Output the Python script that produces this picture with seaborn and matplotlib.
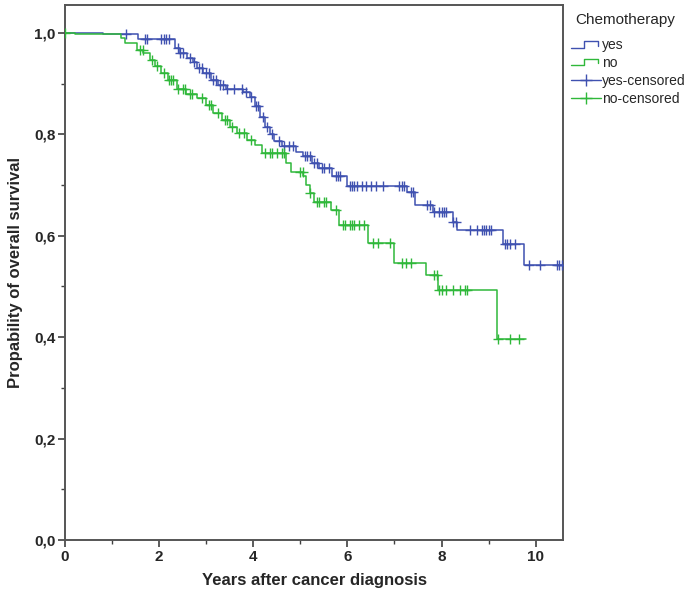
import numpy as np
import pandas as pd
import matplotlib
matplotlib.use('Agg')
import matplotlib.pyplot as plt
from matplotlib.lines import Line2D
from matplotlib.legend_handler import HandlerBase
from matplotlib.ticker import MultipleLocator, FuncFormatter
import seaborn as sns

# Kaplan-Meier step points (time in years, survival after step)
yes_time = [0, 0.8, 1.56, 2.33, 2.44, 2.6, 2.72, 2.8, 2.94, 3.1, 3.26, 3.43, 3.79, 3.93,
            4.03, 4.14, 4.25, 4.35, 4.45, 4.6, 4.9, 5.05, 5.25, 5.4, 5.67, 6.0, 7.27,
            7.43, 7.82, 8.24, 8.33, 9.3, 9.75]
yes_surv = [1.0, 0.997, 0.988, 0.97, 0.96, 0.95, 0.943, 0.93, 0.92, 0.907, 0.897, 0.89,
            0.884, 0.874, 0.855, 0.835, 0.815, 0.8, 0.786, 0.776, 0.766, 0.757, 0.744,
            0.734, 0.717, 0.698, 0.687, 0.661, 0.646, 0.628, 0.611, 0.584, 0.542]
yes_end = 10.55

no_time = [0, 0.21, 1.2, 1.27, 1.52, 1.66, 1.8, 1.91, 2.05, 2.19, 2.37, 2.58, 2.8, 3.0,
           3.15, 3.33, 3.5, 3.65, 3.86, 4.03, 4.18, 4.7, 4.81, 5.06, 5.13, 5.2, 5.3, 5.65,
           5.83, 6.43, 7.0, 7.66, 7.92, 9.17]
no_surv = [1.0, 0.997, 0.99, 0.981, 0.966, 0.96, 0.947, 0.934, 0.92, 0.907, 0.89, 0.88,
           0.871, 0.858, 0.842, 0.828, 0.815, 0.802, 0.789, 0.779, 0.763, 0.743, 0.726,
           0.717, 0.70, 0.684, 0.667, 0.651, 0.621, 0.585, 0.546, 0.523, 0.493, 0.396]
no_end = 9.8

# censored observations (years)
yes_cens = [1.3, 1.7, 1.75, 2.05, 2.1, 2.15, 2.2, 2.4, 2.45, 2.5, 2.65, 2.75, 2.85, 2.9,
            3.0, 3.05, 3.15, 3.2, 3.3, 3.35, 3.45, 3.6, 3.75, 3.85, 3.95, 4.05, 4.1, 4.2,
            4.3, 4.4, 4.55, 4.65, 4.75, 4.85, 5.1, 5.15, 5.2, 5.3, 5.35, 5.45, 5.5, 5.6,
            5.75, 5.8, 5.85, 6.05, 6.1, 6.15, 6.2, 6.3, 6.4, 6.5, 6.6, 6.75, 7.1, 7.15,
            7.2, 7.35, 7.4, 7.7, 7.75, 7.85, 7.95, 8.0, 8.05, 8.1, 8.25, 8.3, 8.6, 8.75,
            8.85, 8.9, 8.95, 9.0, 9.05, 9.35, 9.4, 9.45, 9.55, 9.85, 10.1, 10.45, 10.5, 10.55]
no_cens = [0.0, 1.6, 1.65, 1.85, 1.95, 2.1, 2.2, 2.25, 2.3, 2.4, 2.5, 2.55, 2.65, 2.7,
           2.9, 3.05, 3.1, 3.25, 3.4, 3.45, 3.55, 3.7, 3.8, 3.95, 4.25, 4.35, 4.4, 4.5,
           4.6, 4.65, 5.0, 5.05, 5.2, 5.35, 5.4, 5.5, 5.55, 5.75, 5.9, 5.95, 6.05, 6.1,
           6.15, 6.25, 6.35, 6.55, 6.65, 6.9, 7.15, 7.25, 7.35, 7.85, 7.9, 7.95, 8.0,
           8.1, 8.25, 8.4, 8.5, 8.55, 9.2, 9.45, 9.65]

blue = '#3f51b0'
green = '#2fb83a'


def km_frame(times, surv, end):
    return pd.DataFrame({'t': list(times) + [end], 's': list(surv) + [surv[-1]]})


def cens_frame(times, surv, cens):
    idx = np.searchsorted(times, cens, side='right') - 1
    return pd.DataFrame({'t': cens, 's': np.asarray(surv)[idx]})


class StepHandler(HandlerBase):
    # little step icon like SPSS uses in its KM legend
    def create_artists(self, legend, orig_handle, xdescent, ydescent,
                       width, height, fontsize, trans):
        lo, hi = 0.15 * height, 0.85 * height
        xs = [0, 0.45 * width, 0.45 * width, 0.9 * width, 0.9 * width]
        ys = [lo, lo, hi, hi, 0.35 * height]
        ln = Line2D(np.array(xs) - xdescent, np.array(ys) - ydescent,
                    color=orig_handle.get_color(), lw=1.0, transform=trans)
        return [ln]


sns.set_style('ticks')
plt.rcParams['font.family'] = ['Liberation Sans', 'DejaVu Sans']

fig = plt.figure(figsize=(6.85, 6.03), dpi=100)
ax = fig.add_axes([65 / 685, 63 / 603, 498 / 685, 535 / 603])

sns.lineplot(data=km_frame(yes_time, yes_surv, yes_end), x='t', y='s', ax=ax,
             drawstyle='steps-post', color=blue, lw=1.1, estimator=None)
sns.lineplot(data=km_frame(no_time, no_surv, no_end), x='t', y='s', ax=ax,
             drawstyle='steps-post', color=green, lw=1.1, estimator=None)
sns.scatterplot(data=cens_frame(yes_time, yes_surv, yes_cens), x='t', y='s', ax=ax,
                marker='+', color=blue, s=45, linewidth=1.0, zorder=3)
sns.scatterplot(data=cens_frame(no_time, no_surv, no_cens), x='t', y='s', ax=ax,
                marker='+', color=green, s=45, linewidth=1.0, zorder=3)

ax.set_xlim(0, 10.58)
ax.set_ylim(0, 1.055)
ax.xaxis.set_major_locator(MultipleLocator(2))
ax.xaxis.set_minor_locator(MultipleLocator(1))
ax.yaxis.set_major_locator(MultipleLocator(0.2))
ax.yaxis.set_minor_locator(MultipleLocator(0.1))
ax.yaxis.set_major_formatter(FuncFormatter(lambda v, p: f'{v:.1f}'.replace('.', ',')))
ax.tick_params(which='major', length=5, width=1.2, color='#404040', labelsize=11, pad=2)
ax.tick_params(which='minor', length=3, width=1.0, color='#404040')
for lab in ax.get_xticklabels() + ax.get_yticklabels():
    lab.set_fontweight('bold')
for sp in ax.spines.values():
    sp.set_color('#555555')
    sp.set_linewidth(1.4)

ax.set_xlabel('Years after cancer diagnosis', fontsize=12, fontweight='bold', labelpad=7)
ax.set_ylabel('Propability of overall survival', fontsize=12, fontweight='bold', labelpad=8)

# legend title drawn separately so the gap below it matches the reference
fig.text(575 / 685, 1 - 20 / 603, 'Chemotherapy', fontsize=11, va='center', ha='left')
handles = [Line2D([], [], color=blue), Line2D([], [], color=green),
           Line2D([], [], color=blue, marker='+', markersize=9, lw=1.0),
           Line2D([], [], color=green, marker='+', markersize=9, lw=1.0)]
labels = ['yes', 'no', 'yes-censored', 'no-censored']
fig.legend(handles, labels, loc='upper left',
           bbox_to_anchor=(571 / 685, 1 - 38 / 603), frameon=False,
           fontsize=10, handlelength=2.15, handletextpad=0.1,
           labelspacing=0.28, borderaxespad=0, borderpad=0,
           handler_map={handles[0]: StepHandler(), handles[1]: StepHandler()})

fig.savefig('out.png', dpi=100)
